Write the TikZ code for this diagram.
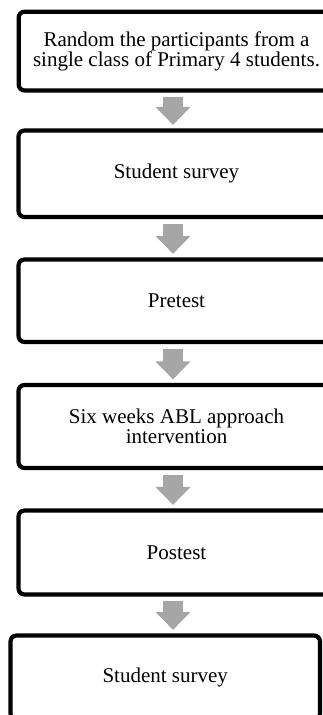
\documentclass[tikz,border=0pt]{standalone}
\usepackage{fontspec}
\setmainfont{Liberation Serif}
\usepackage{xcolor}
\usetikzlibrary{arrows.meta}
\definecolor{arrowgray}{RGB}{166,166,166}
\tikzset{
  stepbox/.style={draw, line width=4.2pt, rounded corners=6pt, align=center, inner sep=0pt,
    font=\fontsize{21}{20}\selectfont},
  flowarrow/.style={draw=arrowgray, line width=20.6pt, -{Triangle[width=34pt,length=18pt]},
    shorten <=4.5pt, shorten >=3.5pt}
}
\begin{document}
\begin{tikzpicture}[x=1pt,y=-1pt]
\useasboundingbox (0,0) rectangle (323,715);
\clip (0,0) rectangle (323,715);
% study procedure, top to bottom
\foreach \n/\x/\y/\w/\h/\txt in {
  1/176.5/51.1/315.7/78.8/{Random the participants from a\\single class of Primary 4 students.},
  2/176.5/173.75/316/86.5/{Student survey},
  3/176.5/300.75/316/82.5/{Pretest},
  4/176.5/426.5/316/83/{Six weeks ABL approach\\intervention},
  5/176.5/552.5/316/84/{Postest},
  6/165.25/677.5/309.5/84/{Student survey}}
{
  \node[stepbox, minimum width=\w pt, minimum height=\h pt] (b\n) at (\x,\y) {\txt};
}
% block arrows
\coordinate (axis) at (173,0);
\foreach \a/\b in {1/2,2/3,3/4,4/5,5/6}
  \draw[flowarrow] (b\a.south -| axis) -- (b\b.north -| axis);
\end{tikzpicture}
\end{document}
